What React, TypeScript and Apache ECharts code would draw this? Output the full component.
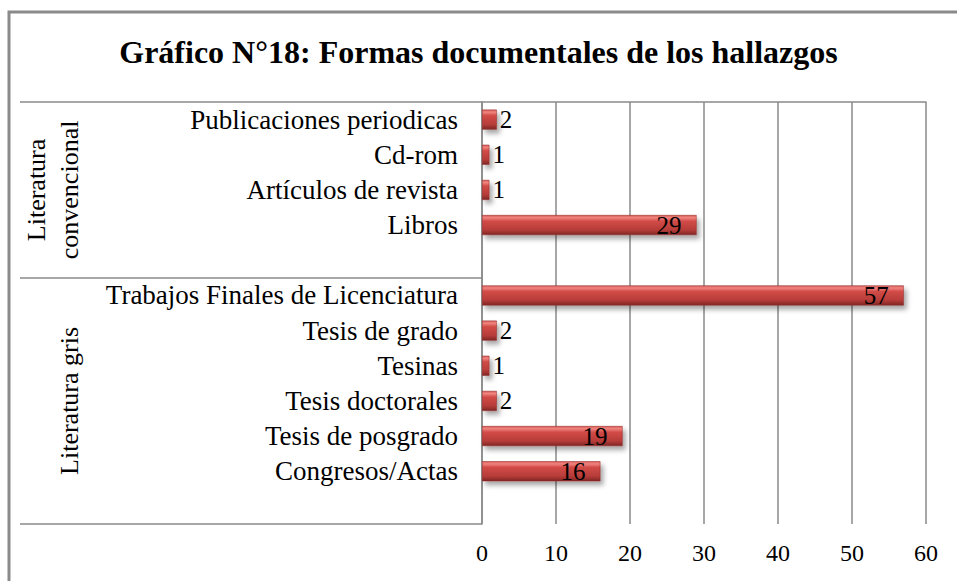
import React, { useEffect, useRef } from "react";
import * as echarts from "echarts";

const titleText = "Gráfico N°18: Formas documentales de los hallazgos";
const categories = [
  "Publicaciones periodicas",
  "Cd-rom",
  "Artículos de revista",
  "Libros",
  "",
  "Trabajos Finales de Licenciatura",
  "Tesis de grado",
  "Tesinas",
  "Tesis doctorales",
  "Tesis de posgrado",
  "Congresos/Actas",
  " ",
];
const values: (number | null)[] = [2, 1, 1, 29, null, 57, 2, 1, 2, 19, 16, null];
const groupNames = ["Literatura\nconvencional", "Literatura gris"];
const groupBounds = [0, 5, 12];
const xTicks = [0, 10, 20, 30, 40, 50, 60];

const FONT = "'Liberation Serif', 'Times New Roman', serif";
const GREY = "#8a8a8a";

export default function App() {
  const ref = useRef<HTMLDivElement>(null);
  useEffect(() => {
    document.body.style.margin = "0";
    const chart = echarts.init(ref.current!, null, { renderer: "svg" });
    const groupCenters = groupNames.map((_, i) => (groupBounds[i] + groupBounds[i + 1]) / 2);
    const barGradient = new echarts.graphic.LinearGradient(0, 0, 0, 1, [
      { offset: 0, color: "#d85a56" },
      { offset: 0.12, color: "#f08480" },
      { offset: 0.3, color: "#d24b47" },
      { offset: 0.75, color: "#b63c39" },
      { offset: 1, color: "#7f2624" },
    ]);
    chart.setOption({
      animation: false,
      title: {
        text: titleText,
        left: "center",
        top: 31,
        textStyle: { fontFamily: FONT, fontWeight: "bold", fontSize: 32, color: "#000" },
      },
      graphic: [
        {
          type: "rect",
          shape: { x: 9, y: 12, width: 1200, height: 1200 },
          style: { fill: "none", stroke: GREY, lineWidth: 3 },
          silent: true,
        },
      ],
      grid: { left: 482, right: 31, top: 102, bottom: 57, containLabel: false },
      xAxis: {
        type: "value",
        min: xTicks[0],
        max: xTicks[xTicks.length - 1],
        interval: 10,
        axisLine: { show: true, lineStyle: { color: GREY, width: 1.5 } },
        axisTick: { show: false },
        splitLine: { show: true, lineStyle: { color: GREY, width: 1.5 } },
        axisLabel: { fontFamily: FONT, fontSize: 24, color: "#000", margin: 17 },
      },
      yAxis: [
        {
          type: "category",
          data: categories,
          inverse: true,
          axisLine: { show: true, lineStyle: { color: GREY, width: 1.5 } },
          axisTick: { show: false },
          axisLabel: { fontFamily: FONT, fontSize: 27, color: "#000", margin: 24, interval: 0 },
        },
        {
          type: "value",
          min: groupBounds[0],
          max: groupBounds[groupBounds.length - 1],
          inverse: true,
          position: "left",
          axisLine: { show: false },
          splitLine: { show: false },
          axisTick: {
            show: true,
            customValues: groupBounds,
            length: 462,
            inside: false,
            lineStyle: { color: GREY, width: 1.5 },
          },
          axisLabel: {
            show: true,
            customValues: groupCenters,
            rotate: 90,
            margin: 396,
            fontFamily: FONT,
            fontSize: 26,
            lineHeight: 33,
            color: "#000",
            formatter: (v: number) => {
              const i = groupCenters.indexOf(v);
              return i >= 0 ? groupNames[i] : "";
            },
          },
        },
      ],
      series: [
        {
          type: "bar",
          yAxisIndex: 0,
          data: values.map((v) => ({
            value: v,
            label:
              v != null && v >= 10
                ? { position: "insideRight", distance: 15 }
                : { position: "right", distance: 3 },
          })),
          barWidth: 20,
          itemStyle: {
            color: barGradient,
            borderColor: "#8e2b29",
            borderWidth: 0.5,
            shadowColor: "rgba(0,0,0,0.35)",
            shadowBlur: 5,
            shadowOffsetX: 3,
            shadowOffsetY: 4,
          },
          label: {
            show: true,
            fontFamily: FONT,
            fontSize: 25,
            color: "#000",
          },
        },
      ],
    });
    return () => chart.dispose();
  }, []);
  return <div ref={ref} style={{ width: 957, height: 581 }} />;
}
